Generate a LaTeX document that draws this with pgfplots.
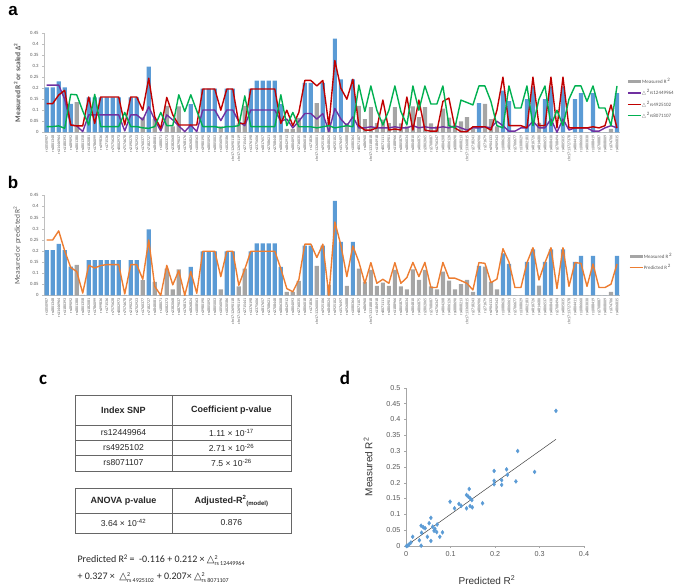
\documentclass[border=0pt]{standalone}
\usepackage{pgfplots}
\pgfplotsset{compat=1.18}
\usepackage{pgfplotstable}
\usepackage{fontspec}
\setmainfont{Carlito}
\newfontfamily\arial{Liberation Sans}
\newfontfamily\dv{DejaVu Sans}

\definecolor{xblue}{HTML}{5B9BD5}
\definecolor{xgrey}{HTML}{A5A5A5}
\definecolor{xpurple}{HTML}{7030A0}
\definecolor{xred}{HTML}{C00000}
\definecolor{xgreen}{HTML}{00B050}
\definecolor{xorange}{HTML}{ED7D31}
\definecolor{axgray}{HTML}{BFBFBF}
\definecolor{txtgray}{HTML}{595959}

% k = SNP index, blue/grey = measured R2 bars, pred = predicted R2,
% p/r/g = scaled delta2 for rs12449964 / rs4925102 / rs8071107
\pgfplotstableread{
k blue grey pred p r g
1 0.203 0 0.249 0.214 0.130 0.026
2 0.203 0 0.249 0.214 0.130 0.026
3 0.231 0 0.290 0.214 0.169 0.029
4 0.203 0 0.200 0.150 0.190 0.018
5 0.129 0 0.125 0.033 0.033 0.172
6 0 0.137 0.107 0.029 0.029 0.170
7 0 0.002 0.010 0.003 0.029 0.097
8 0.158 0 0.135 0.079 0.160 0.033
9 0.158 0 0.123 0.079 0.040 0.172
10 0.158 0 0.134 0.079 0.160 0.026
11 0.158 0 0.138 0.079 0.160 0.026
12 0.158 0 0.138 0.079 0.160 0.026
13 0.158 0 0.138 0.079 0.160 0.026
14 0 0.002 0.006 0.006 0.033 0.090
15 0.158 0 0.138 0.079 0.160 0.026
16 0.158 0 0.138 0.079 0.160 0.026
17 0 0.068 0.072 0.056 0.100 0.020
18 0.297 0 0.249 0.116 0.245 0.018
19 0 0.060 0.040 0.056 0.070 0.026
20 0 0.002 0.000 0.006 0.018 0.090
21 0 0.120 0.135 0.079 0.158 0.030
22 0 0.027 0.047 0.056 0.079 0.030
23 0 0.117 0.111 0.029 0.033 0.170
24 0 0.002 0.000 0.003 0.033 0.094
25 0.128 0 0.107 0.033 0.033 0.170
26 0 0.002 0.009 0.003 0.033 0.097
27 0.198 0 0.198 0.101 0.196 0.026
28 0.198 0 0.198 0.101 0.196 0.026
29 0.198 0 0.198 0.101 0.196 0.026
30 0 0.027 0.084 0.053 0.100 0.020
31 0.198 0 0.198 0.101 0.196 0.026
32 0.198 0 0.198 0.101 0.196 0.026
33 0 0.040 0.045 0.048 0.040 0.030
34 0 0.120 0.118 0.030 0.040 0.165
35 0.198 0 0.198 0.101 0.196 0.026
36 0.234 0 0.198 0.101 0.196 0.026
37 0.234 0 0.198 0.101 0.196 0.026
38 0.234 0 0.198 0.101 0.196 0.026
39 0.234 0 0.198 0.101 0.196 0.026
40 0.128 0 0.120 0.050 0.040 0.170
41 0 0.015 0.030 0.060 0.100 0.030
42 0 0.015 0.016 0.020 0.030 0.090
43 0 0.065 0.070 0.050 0.090 0.025
44 0.224 0 0.230 0.085 0.235 0.025
45 0.224 0 0.230 0.085 0.235 0.025
46 0 0.132 0.170 0.060 0.210 0.020
47 0.224 0 0.230 0.085 0.235 0.025
48 0 0.048 0.000 0.003 0.030 0.030
49 0.425 0 0.330 0.108 0.325 0.020
50 0.240 0 0.226 0.060 0.200 0.025
51 0 0.042 0.084 0.030 0.150 0.030
52 0.240 0 0.222 0.070 0.240 0.025
53 0 0.120 0.150 0.020 0.030 0.214
54 0 0.060 0.054 0.020 0.010 0.094
55 0 0.114 0.147 0.025 0.010 0.210
56 0 0.042 0.054 0.020 0.020 0.100
57 0 0.057 0.072 0.020 0.146 0.033
58 0 0.042 0.054 0.020 0.010 0.100
59 0 0.114 0.147 0.025 0.015 0.210
60 0 0.040 0.054 0.020 0.010 0.094
61 0 0.027 0.080 0.020 0.160 0.033
62 0 0.117 0.148 0.030 0.010 0.210
63 0 0.069 0.084 0.020 0.146 0.100
64 0 0.114 0.148 0.025 0.010 0.210
65 0 0.040 0.035 0.020 0.005 0.128
66 0 0.027 0.035 0.020 0.005 0.128
67 0 0.107 0.148 0.025 0.140 0.210
68 0 0.066 0.077 0.020 0.155 0.030
69 0 0.027 0.077 0.030 0.020 0.020
70 0 0.050 0.066 0.020 0.003 0.146
71 0 0.069 0.054 0.010 0.003 0.135
72 0 0.015 0.024 0.020 0.025 0.124
73 0.132 0 0.147 0.020 0.025 0.210
74 0 0.129 0.144 0.025 0.025 0.210
75 0 0.060 0.057 0.020 0.010 0.140
76 0 0.027 0.073 0.050 0.100 0.030
77 0.189 0 0.210 0.030 0.250 0.020
78 0.141 0 0.150 0.005 0.030 0.210
79 0 0 0.035 0.005 0.030 0.110
80 0 0 0.035 0.020 0.030 0.110
81 0.150 0 0.147 0.020 0.020 0.210
82 0.207 0 0.214 0.050 0.250 0.030
83 0 0.043 0.069 0.020 0.030 0.150
84 0.150 0 0.147 0.020 0.030 0.210
85 0.207 0 0.214 0.060 0.250 0.030
86 0 0 0.030 0.000 0.020 0.100
87 0.207 0 0.214 0.060 0.250 0.030
88 0 0 0.040 0.010 0.020 0.150
89 0.150 0 0.147 0.020 0.020 0.210
90 0.177 0 0.144 0.020 0.020 0.210
91 0 0 0.040 0.020 0.020 0.140
92 0.177 0 0.141 0.005 0.025 0.210
93 0 0 0.035 0.005 0.020 0.110
94 0 0 0.035 0.020 0.030 0.110
95 0 0.015 0.050 0.030 0.124 0.030
96 0.177 0 0.141 0.020 0.020 0.210
}\snpdata

% panel d: predicted vs measured
\pgfplotstableread{
pr me
0.337 0.427
0.251 0.300
0.289 0.234
0.198 0.237
0.226 0.242
0.228 0.225
0.247 0.204
0.215 0.208
0.198 0.206
0.198 0.195
0.215 0.193
0.142 0.180
0.136 0.161
0.140 0.156
0.144 0.151
0.148 0.145
0.172 0.135
0.099 0.140
0.119 0.133
0.109 0.119
0.124 0.127
0.144 0.126
0.149 0.122
0.136 0.119
0.056 0.089
0.052 0.072
0.070 0.068
0.034 0.064
0.039 0.059
0.043 0.056
0.060 0.061
0.065 0.054
0.063 0.048
0.082 0.043
0.069 0.044
0.035 0.042
0.015 0.029
0.048 0.029
0.076 0.029
0.030 0.018
0.056 0.016
0.034 0.001
0.011 0.011
0.007 0.005
0.004 0.001
0.001 0.000
}\scatterdata

\pgfplotsset{
  snpaxis/.style={
    scale only axis, width=576.3pt, height=99.3pt,
    xmin=0.5, xmax=96.5, ymin=0, ymax=0.45,
    xtick={1,...,96},
    xticklabels={rs1050907,rs4801348,rs11446964,rs1180393,rs489092,rs4801380,rs4801358,rs1182081,rs1786099,rs499836,rs171536,rs7575628,rs8002973,rs7574678,rs2190270,rs2702923,rs1760377,rs7182727,rs4848081,rs188071,rs2082373,rs2382068,rs4879037,rs1768176,rs4826824,rs1008563,rs3980190,rs4805092,rs4805003,rs1056096,rs1020586,chr17:12690118,chr17:12690119,rs2715441,rs1376198,rs2375606,rs4817657,rs2708621,rs2708448,rs4806308,rs4842913,rs4804093,rs2716035,rs4806018,rs171836,chr17:13260001,rs4925106,rs4848024,rs4925102,rs1576497,rs4926888,rs1080364,rs8071107,rs486960,chr17:13318818,rs1184918,rs8071111,rs4804901,rs1188966,rs4805879,rs4806034,rs4804810,rs4806875,rs2802065,rs2708087,rs1756347,rs4804208,rs4806126,rs6888690,rs4808213,chr17:13360815,rs2718243,rs4806906,rs271679,rs4904133,rs4909343,rs1088628,rs4806061,rs2706677,rs1308029,rs4802183,rs4810726,rs4814680,rs4806537,rs4808430,rs2708494,rs4805035,chr17:13727378,rs4804411,rs1086660,rs4803030,rs1088419,rs2708887,rs4808009,rs374706,rs4806835},
    xticklabel style={rotate=90, anchor=east, font=\fontsize{4}{4}\selectfont, text=txtgray, inner sep=1pt},
    ytick={0,0.05,0.1,0.15,0.2,0.25,0.3,0.35,0.4,0.45},
    yticklabel style={font=\fontsize{4.8}{5}\selectfont, text=txtgray, /pgf/number format/fixed, /pgf/number format/precision=2},
    scaled y ticks=false,
    /pgf/number format/assume math mode=true,
    axis x line*=bottom, axis y line*=left,
    axis line style={axgray, -},
    ytick style={axgray}, xtick style={draw=none},
    major tick length=1.5pt, tick align=outside,
    legend cell align=left,
    legend style={draw=none, fill=none, font=\fontsize{5}{5}\selectfont, text=txtgray,
      inner sep=0pt, row sep=6.6pt, nodes={inner sep=0.6pt, text height=3.6pt, text depth=0pt}},
  },
  bars/.style={ybar, bar width=4.2pt, bar shift=0pt, draw=none},
}

\newcommand\dsq[1]{{\dv △}$^{\mbox{\fontsize{6}{6}\selectfont 2}}_{\mbox{\fontsize{6}{6}\selectfont rs #1}}$}

\begin{document}
\begin{tikzpicture}
\path[use as bounding box] (0,0) rectangle (685pt,585pt);

% panel letters
\node[font=\arial\fontsize{17}{17}\selectfont\bfseries, anchor=center] at (13pt,574pt) {a};
\node[font=\arial\fontsize{17}{17}\selectfont\bfseries, anchor=center] at (13pt,403pt) {b};
\node[font=\fontsize{19}{19}\selectfont\bfseries, anchor=center] at (43pt,205pt) {c};
\node[font=\fontsize{19}{19}\selectfont\bfseries, anchor=center] at (345pt,207pt) {d};

% ---------------- panel a ----------------
\begin{axis}[snpaxis, at={(43.7pt,452.7pt)}, anchor=south west,
  ylabel={\bfseries Measured R\textsuperscript{2} or scaled Δ\textsuperscript{2}},
  ylabel style={at={(axis description cs:-0.046,0.5)}, anchor=center, font=\fontsize{7.5}{8}\selectfont, text=txtgray},
  legend style={at={(1.012,0.34)}, anchor=west}]
\addplot[bars, fill=xblue, forget plot] table[x=k, y=blue] {\snpdata};
\addplot[bars, fill=xgrey, legend image code/.code={\fill[xgrey] (0pt,-1.4pt) rectangle (13pt,1.4pt);}] table[x=k, y=grey] {\snpdata};
\addlegendentry{Measured R\,\textsuperscript{2}}
\addplot[xpurple, line width=1.4pt, line join=round,
  legend image code/.code={\draw[xpurple, line width=1.4pt] (0pt,0pt) -- (13pt,0pt);}] table[x=k, y=p] {\snpdata};
\addlegendentry{{\dv △}\,\textsuperscript{2}rs12449964}
\addplot[xred, line width=1.4pt, line join=round,
  legend image code/.code={\draw[xred, line width=1.4pt] (0pt,0pt) -- (13pt,0pt);}] table[x=k, y=r] {\snpdata};
\addlegendentry{{\dv △}\,\textsuperscript{2}rs4925102}
\addplot[xgreen, line width=1.4pt, line join=round,
  legend image code/.code={\draw[xgreen, line width=1.4pt] (0pt,0pt) -- (13pt,0pt);}] table[x=k, y=g] {\snpdata};
\addlegendentry{{\dv △}\,\textsuperscript{2}rs8071107}
\end{axis}

% ---------------- panel b ----------------
\begin{axis}[snpaxis, at={(43.7pt,289.7pt)}, anchor=south west, height=100pt,
  ylabel={Measured or predicted R\textsuperscript{2}},
  ylabel style={at={(axis description cs:-0.046,0.5)}, anchor=center, font=\fontsize{7.5}{8}\selectfont, text=txtgray},
  legend style={at={(1.015,0.333)}, anchor=west}]
\addplot[bars, fill=xblue, forget plot] table[x=k, y=blue] {\snpdata};
\addplot[bars, fill=xgrey, legend image code/.code={\fill[xgrey] (0pt,-1.4pt) rectangle (13pt,1.4pt);}] table[x=k, y=grey] {\snpdata};
\addlegendentry{Measured R\,\textsuperscript{2}}
\addplot[xorange, line width=1.4pt, line join=round,
  legend image code/.code={\draw[xorange, line width=1.4pt] (0pt,0pt) -- (13pt,0pt);}] table[x=k, y=pred] {\snpdata};
\addlegendentry{Predicted R\,\textsuperscript{2}}
\end{axis}

% ---------------- panel c (table) ----------------
\begin{scope}[draw=gray!80!black, line width=0.6pt]
\draw (75pt,190pt) rectangle (291pt,114pt);
\draw (172pt,190pt) -- (172pt,114pt);
\draw (75pt,160pt) -- (291pt,160pt);
\draw (75pt,144.5pt) -- (291pt,144.5pt);
\draw (75pt,129.2pt) -- (291pt,129.2pt);
\draw (75pt,96.7pt) rectangle (291pt,51.7pt);
\draw (172pt,96.7pt) -- (172pt,51.7pt);
\draw (75pt,71.7pt) -- (291pt,71.7pt);
\end{scope}
\begin{scope}[every node/.style={font=\arial\fontsize{8.6}{9}\selectfont, text=black!85, anchor=center}]
\node[font=\arial\fontsize{9}{9}\selectfont\bfseries] at (123.5pt,175pt) {Index SNP};
\node[font=\arial\fontsize{9}{9}\selectfont\bfseries] at (231.5pt,175pt) {Coefficient p-value};
\node at (123.5pt,152pt) {rs12449964};
\node at (231.5pt,152pt) {1.11 × 10\textsuperscript{-17}};
\node at (123.5pt,137pt) {rs4925102};
\node at (231.5pt,137pt) {2.71 × 10\textsuperscript{-26}};
\node at (123.5pt,122pt) {rs8071107};
\node at (231.5pt,122pt) {7.5 × 10\textsuperscript{-26}};
\node[font=\arial\fontsize{9}{9}\selectfont\bfseries] at (123.5pt,84pt) {ANOVA p-value};
\node[font=\arial\fontsize{9}{9}\selectfont\bfseries] at (231.5pt,84pt) {Adjusted-R\textsuperscript{2}\textsubscript{(model)}};
\node at (123.5pt,62pt) {3.64 × 10\textsuperscript{-42}};
\node at (231.5pt,62pt) {0.876};
\end{scope}
\node[anchor=base west, font=\fontsize{10}{10}\selectfont, text=black!85] at (74pt,22pt)
  {Predicted R\textsuperscript{2}\,=\ \ -0.116 + 0.212 × \dsq{12449964}};
\node[anchor=base west, font=\fontsize{10}{10}\selectfont, text=black!85] at (74pt,5pt)
  {+ 0.327 ×\ \ \dsq{4925102} + 0.207× \dsq{8071107}};

% ---------------- panel d ----------------
\begin{axis}[scale only axis, at={(406pt,39pt)}, anchor=south west, width=178pt, height=158.3pt,
  xmin=0, xmax=0.4, ymin=0, ymax=0.5,
  xtick={0,0.1,0.2,0.3,0.4}, ytick={0,0.05,0.1,0.15,0.2,0.25,0.3,0.35,0.4,0.45,0.5},
  scaled ticks=false,
  /pgf/number format/assume math mode=true,
  ticklabel style={font=\arial\fontsize{7.2}{7.2}\selectfont, text=txtgray, /pgf/number format/fixed, /pgf/number format/precision=2},
  axis x line*=bottom, axis y line*=left, axis line style={gray!70, -},
  tick style={gray!70}, major tick length=2pt, tick align=outside,
  xlabel={Predicted R\textsuperscript{2}}, ylabel={Measured R\textsuperscript{2}},
  xlabel style={at={(axis description cs:0.455,-0.215)}, anchor=center, font=\arial\fontsize{10}{10}\selectfont, text=black!80},
  ylabel style={at={(axis description cs:-0.213,0.5)}, anchor=center, font=\arial\fontsize{10}{10}\selectfont, text=black!80},
  clip=false]
\addplot[only marks, mark=diamond*, mark size=2pt, xblue] table[x=pr, y=me] {\scatterdata};
\addplot[gray!50!black, line width=0.5pt] coordinates {(0.001,0.001) (0.337,0.337)};
\end{axis}
\end{tikzpicture}
\end{document}
